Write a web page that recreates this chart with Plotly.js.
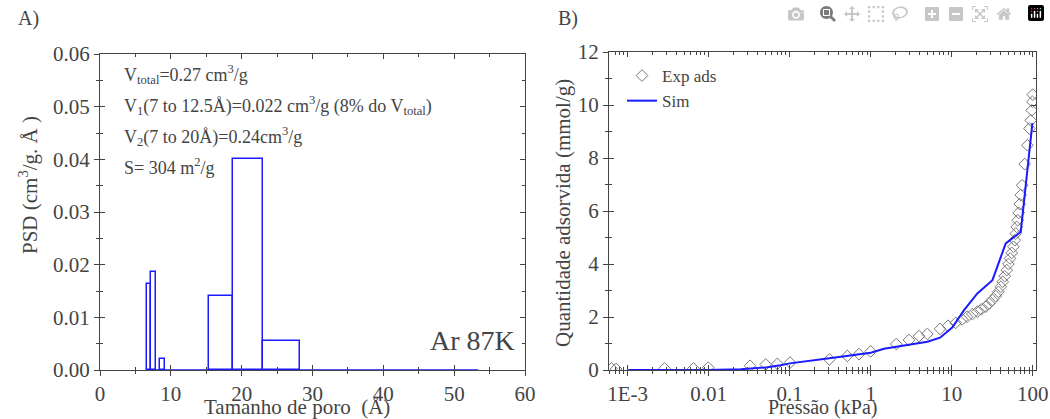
<!DOCTYPE html>
<html>
<head>
<meta charset="utf-8">
<script src="https://cdn.plot.ly/plotly-3.0.1.min.js"></script>
</head>
<body style="margin:0">
<div id="chart"></div>
<script>
// ---------- Panel A: pore size distribution (Ar 87K) ----------
const psdBinLeft  = [6.68, 7.25, 8.47, 15.44, 18.82, 22.97];
const psdBinRight = [7.25, 7.91, 9.22, 18.82, 22.97, 28.19];
const psdValue    = [0.0163, 0.0186, 0.0020, 0.0141, 0.0401, 0.0055];
const psdZeroX    = [6.68, 53.4];
const psdZeroY    = [0, 0];

// ---------- Panel B: Ar isotherm ----------
const expP = [0.00063, 0.00072, 0.00286, 0.0065, 0.0099, 0.0324, 0.0506, 0.0704, 0.101, 0.309,
  0.515, 0.718, 1.0, 2.07, 2.97, 3.95, 5.0, 7.18, 9.0, 11.2, 13.5, 15.5, 18.0, 20.7, 23.2, 26.3,
  28.9, 31.8, 34.9, 37.7, 40.3, 42.6, 45.1, 47.8, 50.1, 52.5, 55.1, 57.7, 60.0, 61.7, 63.4, 65.3,
  67.1, 69.1, 71.1, 73.9, 79.6, 85.9, 91.0, 94.4, 97.2, 99.1, 100.0];
const expQ = [0.06, 0.04, 0.06, 0.06, 0.09, 0.16, 0.21, 0.23, 0.28, 0.40,
  0.53, 0.60, 0.70, 0.98, 1.13, 1.28, 1.36, 1.55, 1.67, 1.78, 1.91, 2.01, 2.11, 2.20, 2.29, 2.39,
  2.51, 2.64, 2.79, 2.95, 3.14, 3.33, 3.54, 3.77, 4.00, 4.21, 4.42, 4.65, 4.90, 5.15, 5.40, 5.65,
  5.93, 6.26, 6.60, 6.97, 7.77, 8.48, 9.11, 9.42, 9.80, 10.12, 10.39];
const simP = [0.00102, 0.0097, 0.0248, 0.053, 0.0774, 0.1, 0.309, 1.0, 1.46, 2.07, 5.0, 7.18,
  10.2, 14.2, 20.7, 31.8, 46.4, 71.1, 99.0];
const simQ = [0.0, 0.0, 0.03, 0.10, 0.18, 0.25, 0.44, 0.65, 0.80, 0.88, 1.07, 1.22,
  1.61, 2.26, 2.89, 3.39, 4.78, 5.21, 9.32];

const pTickVals = [0.001, 0.01, 0.1, 1, 10, 100];
const pTickText = ['1E-3', '0.01', '0.1', '1', '10', '100'];

const SERIF = 'Liberation Serif';
const BLUE = '#1a1aff';
const AX = '#444';

const barCenters = psdBinLeft.map((l, i) => (l + psdBinRight[i]) / 2);
const barWidths  = psdBinLeft.map((l, i) => psdBinRight[i] - l);

const traces = [
  {type: 'scatter', mode: 'lines', x: psdZeroX, y: psdZeroY, xaxis: 'x', yaxis: 'y',
   line: {color: BLUE, width: 1.3}, showlegend: false, hoverinfo: 'skip'},
  {type: 'bar', x: barCenters, y: psdValue, width: barWidths, xaxis: 'x', yaxis: 'y',
   marker: {color: 'rgba(0,0,0,0)', line: {color: BLUE, width: 1.5}}, showlegend: false},
  {type: 'scatter', mode: 'markers', x: expP, y: expQ, xaxis: 'x2', yaxis: 'y2', name: 'Exp ads',
   marker: {symbol: 'diamond-open', size: 9, color: '#777', line: {width: 1, color: '#777'}}},
  {type: 'scatter', mode: 'lines', x: simP, y: simQ, xaxis: 'x2', yaxis: 'y2', name: 'Sim',
   line: {color: BLUE, width: 2}},
  {type: 'scatter', x: [], y: [], xaxis: 'x3', yaxis: 'y3', showlegend: false, hoverinfo: 'skip'},
  {type: 'scatter', x: [], y: [], xaxis: 'x4', yaxis: 'y4', showlegend: false, hoverinfo: 'skip'}
];

const dA = {x: [100/1050, 525/1050], y: [(419-370)/419, (419-54)/419]};
const dB = {x: [609/1050, 1036/1050], y: [(419-370)/419, (419-52)/419]};

function mainAxis(extra) {
  return Object.assign({
    showgrid: false, zeroline: false, showline: true, linecolor: AX, linewidth: 1,
    ticks: 'outside', ticklen: 5, tickwidth: 1, tickcolor: AX,
    tickfont: {family: SERIF, size: 21}
  }, extra);
}
function overlayAxis(extra) {
  return Object.assign({
    showgrid: false, zeroline: false, showline: true, linecolor: AX, linewidth: 1,
    ticks: 'inside', ticklen: 5, tickwidth: 1, tickcolor: AX, mirror: 'allticks',
    showticklabels: false
  }, extra);
}
function note(text, px, py, size, extra) {
  return Object.assign({text: text, xref: 'paper', yref: 'paper', x: px / 1050, y: (419 - py) / 419,
    showarrow: false, font: {family: SERIF, size: size}, xanchor: 'center', yanchor: 'middle'}, extra || {});
}

const layout = {
  width: 1050, height: 419,
  margin: {l: 0, r: 0, t: 0, b: 0},
  paper_bgcolor: '#fff', plot_bgcolor: '#fff',
  showlegend: true,
  legend: {x: 622/1050, y: (419-58)/419, xanchor: 'left', yanchor: 'top',
           bgcolor: 'rgba(0,0,0,0)', font: {family: SERIF, size: 17},
           tracegroupgap: 0, itemwidth: 30},
  bargap: 0,
  xaxis: mainAxis({domain: dA.x, anchor: 'y', range: [0, 60], dtick: 10, tick0: 0,
    minor: {dtick: 5, ticks: 'outside', ticklen: 3, tickcolor: AX}}),
  yaxis: mainAxis({domain: dA.y, anchor: 'x', range: [0, 0.06], dtick: 0.01, tickformat: '.2f',
    minor: {dtick: 0.005, ticks: 'outside', ticklen: 3, tickcolor: AX}}),
  xaxis3: overlayAxis({domain: dA.x, anchor: 'y3', overlaying: 'x', range: [0, 60], dtick: 10,
    minor: {dtick: 5, ticks: 'inside', ticklen: 3, tickcolor: AX}}),
  yaxis3: overlayAxis({domain: dA.y, anchor: 'x3', overlaying: 'y', range: [0, 0.06], dtick: 0.01,
    minor: {dtick: 0.005, ticks: 'inside', ticklen: 3, tickcolor: AX}}),
  xaxis2: mainAxis({domain: dB.x, anchor: 'y2', type: 'log', range: [-3.23, 2.04],
    tickmode: 'array', tickvals: pTickVals, ticktext: pTickText,
    minor: {dtick: 'D1', ticks: 'outside', ticklen: 3, tickcolor: AX}}),
  yaxis2: mainAxis({domain: dB.y, anchor: 'x2', range: [0, 12], dtick: 2,
    minor: {dtick: 1, ticks: 'outside', ticklen: 3, tickcolor: AX}}),
  xaxis4: overlayAxis({domain: dB.x, anchor: 'y4', overlaying: 'x2', type: 'log', range: [-3.23, 2.04],
    tickmode: 'array', tickvals: pTickVals,
    minor: {dtick: 'D1', ticks: 'inside', ticklen: 3, tickcolor: AX}}),
  yaxis4: overlayAxis({domain: dB.y, anchor: 'x4', overlaying: 'y2', range: [0, 12], dtick: 2,
    minor: {dtick: 1, ticks: 'inside', ticklen: 3, tickcolor: AX}}),
  annotations: [
    note('A)', 28, 18, 20),
    note('B)', 568, 18, 20),
    note('PSD (cm<sup>3</sup>/g. Å )', 29, 185, 21, {textangle: -90}),
    note('Tamanho de poro  (Å)', 297, 407, 21),
    note('Quantidade adsorvida (mmol/g)', 563, 213, 21, {textangle: -90}),
    note('Pressão (kPa)', 822, 407, 20),
    note('V<sub>total</sub>=0.27 cm<sup>3</sup>/g', 122, 74, 18, {xanchor: 'left'}),
    note('V<sub>1</sub>(7 to 12.5Å)=0.022 cm<sup>3</sup>/g (8% do V<sub>total</sub>)', 122, 105, 18, {xanchor: 'left'}),
    note('V<sub>2</sub>(7 to 20Å)=0.24cm<sup>3</sup>/g', 122, 136, 18, {xanchor: 'left'}),
    note('S= 304 m<sup>2</sup>/g', 122, 166, 18, {xanchor: 'left'}),
    note('Ar 87K', 517, 340, 28, {xanchor: 'right'})
  ]
};

Plotly.newPlot('chart', traces, layout);
</script>
</body>
</html>
